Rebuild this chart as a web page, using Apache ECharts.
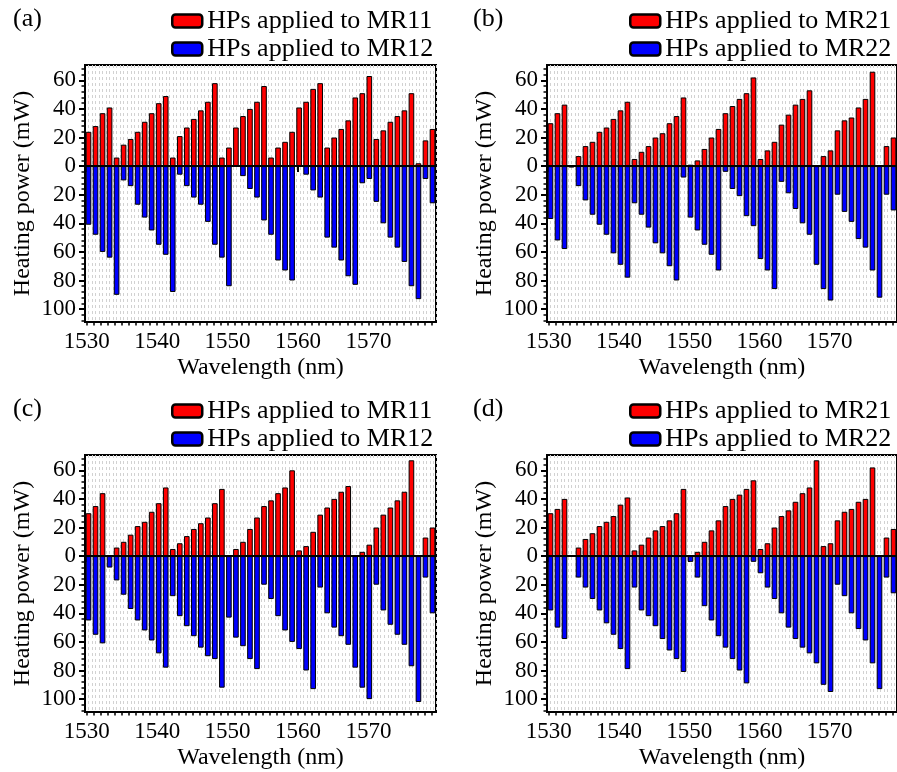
<!DOCTYPE html>
<html><head><meta charset="utf-8">
<script src="https://cdn.jsdelivr.net/npm/echarts@6/dist/echarts.min.js"></script>
<style>html,body{margin:0;padding:0;background:#fff}#c{width:897px;height:772px}</style>
</head><body><div id="c"></div>
<script>
const wavelengths = [1530.2,1531.2,1532.2,1533.2,1534.2,1535.2,1536.2,1537.2,1538.2,1539.2,
  1540.2,1541.2,1542.2,1543.2,1544.2,1545.2,1546.2,1547.2,1548.2,1549.2,
  1550.2,1551.2,1552.2,1553.2,1554.2,1555.2,1556.2,1557.2,1558.2,1559.2,
  1560.2,1561.2,1562.2,1563.2,1564.2,1565.2,1566.2,1567.2,1568.2,1569.2,
  1570.2,1571.2,1572.2,1573.2,1574.2,1575.2,1576.2,1577.2,1578.2,1579.2];

const aRed  = [24,28,37,41,6,15,19,24,31,37,44,49,6,21,27,33,39,45,58,6,13,27,35,40,45,56,6,13,17,24,41,45,54,58,13,20,26,32,48,51,63,19,25,31,35,39,51,2,18,26];
const aBlue = [41,48,60,64,90,10,14,27,36,45,55,62,88,6,14,22,27,39,55,64,84,0,7,16,22,38,48,66,73,80,0,6,17,22,50,57,66,77,83,12,9,25,40,50,57,67,84,93,9,26];
const bRed  = [30,37,43,0,7,14,17,24,27,33,39,45,5,10,14,20,23,30,35,48,1,4,12,20,26,37,42,47,51,62,5,11,17,29,36,43,47,53,0,7,11,25,32,34,41,47,66,0,14,20];
const bBlue = [37,52,58,1,14,24,34,41,48,61,69,78,26,34,43,54,61,70,80,8,36,45,55,62,73,4,16,21,35,42,65,73,86,11,19,30,40,48,69,86,94,20,32,39,51,57,73,92,20,31];
const cRed  = [30,35,44,0,6,10,15,21,24,31,37,48,5,9,14,19,23,27,37,47,0,5,10,19,27,35,39,44,48,60,4,7,17,29,34,40,45,49,0,3,8,20,29,34,39,45,67,0,13,20];
const cBlue = [45,55,61,8,17,27,37,45,52,59,68,78,28,42,49,56,64,70,72,92,43,57,63,72,79,20,30,42,52,60,65,80,93,22,40,50,56,62,78,92,100,20,38,48,55,62,77,102,15,40];
const dRed  = [30,33,40,0,6,12,16,21,24,28,36,41,4,8,13,18,21,25,30,47,0,3,10,18,25,35,40,43,47,53,5,9,20,28,32,38,44,48,67,7,9,25,31,33,38,40,62,0,13,19];
const dBlue = [38,50,58,0,15,22,30,38,47,55,65,79,22,38,42,49,58,66,72,81,4,15,35,45,56,64,72,80,89,4,12,22,30,40,50,58,64,68,75,90,95,20,28,40,51,59,75,93,15,26];

const xTickLabels = [1530,1540,1550,1560,1570];
const yTickLabels = [-100,-80,-60,-40,-20,0,20,40,60];
const panelLabels = ['(a)','(b)','(c)','(d)'];
const redNames  = ['HPs applied to MR11','HPs applied to MR21','HPs applied to MR11','HPs applied to MR21'];
const blueNames = ['HPs applied to MR12','HPs applied to MR22','HPs applied to MR12','HPs applied to MR22'];
const redData  = [aRed, bRed, cRed, dRed];
const blueData = [aBlue, bBlue, cBlue, dBlue];

const FONT = 'Liberation Serif';
const X_MIN = 1529.75, X_MAX = 1579.6, Y_MIN = -109, Y_MAX = 70.7;
const layout = [
  {left:85, top:65, legendLeft:166, labelLeft:8, labelTop:1},
  {left:547, top:65, legendLeft:624, labelLeft:468, labelTop:1},
  {left:85, top:455, legendLeft:166, labelLeft:8, labelTop:391},
  {left:547, top:455, legendLeft:624, labelLeft:468, labelTop:391}
];
const W = 351, H = 257;

const minorX = []; for (let v = 1530; v <= 1579; v++) minorX.push(v);
const minorY = []; for (let v = -108; v <= 70; v += 4) minorY.push(v);

const option = {animation:false, backgroundColor:'#fff', title:[], legend:[], grid:[], xAxis:[], yAxis:[], series:[]};

layout.forEach((L, p) => {
  option.grid.push({left:L.left, top:L.top, width:W, height:H, show:true, borderColor:'#000', borderWidth:2, backgroundColor:'#fff', containLabel:false});
  option.title.push({text:panelLabels[p], left:L.labelLeft, top:L.labelTop, textStyle:{fontFamily:FONT, fontSize:26, fontWeight:'normal', color:'#000'}});
  option.legend.push({
    left:L.legendLeft, top:L.labelTop + 2, orient:'vertical', itemWidth:30, itemHeight:13, itemGap:2,
    icon:'roundRect', data:[redNames[p], blueNames[p]],
    itemStyle:{borderColor:'#000', borderWidth:2.5},
    textStyle:{fontFamily:FONT, fontSize:26, color:'#000', lineHeight:26}
  });
  const xb = option.xAxis.length, yb = option.yAxis.length;
  option.xAxis.push({type:'category', gridIndex:p, data:wavelengths, boundaryGap:true, show:false});
  option.xAxis.push({type:'value', gridIndex:p, min:X_MIN, max:X_MAX, position:'bottom',
    name:'Wavelength (nm)', nameLocation:'middle', nameGap:34,
    nameTextStyle:{fontFamily:FONT, fontSize:24, color:'#000'},
    axisLine:{show:true, lineStyle:{color:'#000', width:2}},
    axisTick:{show:true, inside:false, length:6, lineStyle:{color:'#000', width:2}, customValues:xTickLabels},
    axisLabel:{show:true, margin:8, customValues:xTickLabels, formatter:v => String(v), fontFamily:FONT, fontSize:23, color:'#000'},
    splitLine:{show:false}});
  option.xAxis.push({type:'value', gridIndex:p, min:X_MIN, max:X_MAX, position:'bottom',
    axisLine:{show:false}, axisLabel:{show:false}, splitLine:{show:false},
    axisTick:{show:true, inside:false, length:3.5, lineStyle:{color:'#000', width:1.5}, customValues:minorX}});
  option.xAxis.push({type:'value', gridIndex:p, min:0, max:X_MAX - X_MIN, interval:0.5, position:'top',
    axisLine:{show:false}, axisLabel:{show:false}, axisTick:{show:false},
    splitLine:{show:true, lineStyle:{color:'#d2d2d2', width:1, type:[3,3]}}});

  option.yAxis.push({type:'value', gridIndex:p, min:Y_MIN, max:Y_MAX, position:'left',
    name:'Heating power (mW)', nameLocation:'middle', nameGap:50, nameRotate:90,
    nameTextStyle:{fontFamily:FONT, fontSize:24, color:'#000'},
    axisLine:{show:true, lineStyle:{color:'#000', width:2}},
    axisTick:{show:true, inside:false, length:6, lineStyle:{color:'#000', width:2}, customValues:yTickLabels},
    axisLabel:{show:true, margin:9, customValues:yTickLabels, formatter:v => String(Math.abs(v)), fontFamily:FONT, fontSize:23, color:'#000'},
    splitLine:{show:false}});
  option.yAxis.push({type:'value', gridIndex:p, min:Y_MIN, max:Y_MAX, position:'left', offset:0,
    axisLine:{show:false}, axisLabel:{show:false}, splitLine:{show:false},
    axisTick:{show:true, inside:false, length:3.5, lineStyle:{color:'#000', width:1.5}, customValues:minorY}});

  option.series.push({type:'bar', name:redNames[p], xAxisIndex:xb, yAxisIndex:yb,
    data:redData[p], barWidth:'80%', barGap:'-100%',
    itemStyle:{color:'#ff0000', borderColor:'#000', borderWidth:1},
    markLine:{silent:true, symbol:'none', label:{show:false}, lineStyle:{color:'#000', width:2, type:'solid'}, data:[{yAxis:0}]}});
  option.series.push({type:'bar', name:blueNames[p], xAxisIndex:xb, yAxisIndex:yb,
    data:blueData[p].map(v => -v), barWidth:'80%', barGap:'-100%',
    itemStyle:{color:'#0000ff', borderColor:'#000', borderWidth:1}});
});

const chart = echarts.init(document.getElementById('c'), null, {renderer:'canvas'});
chart.setOption(option);
</script></body></html>
